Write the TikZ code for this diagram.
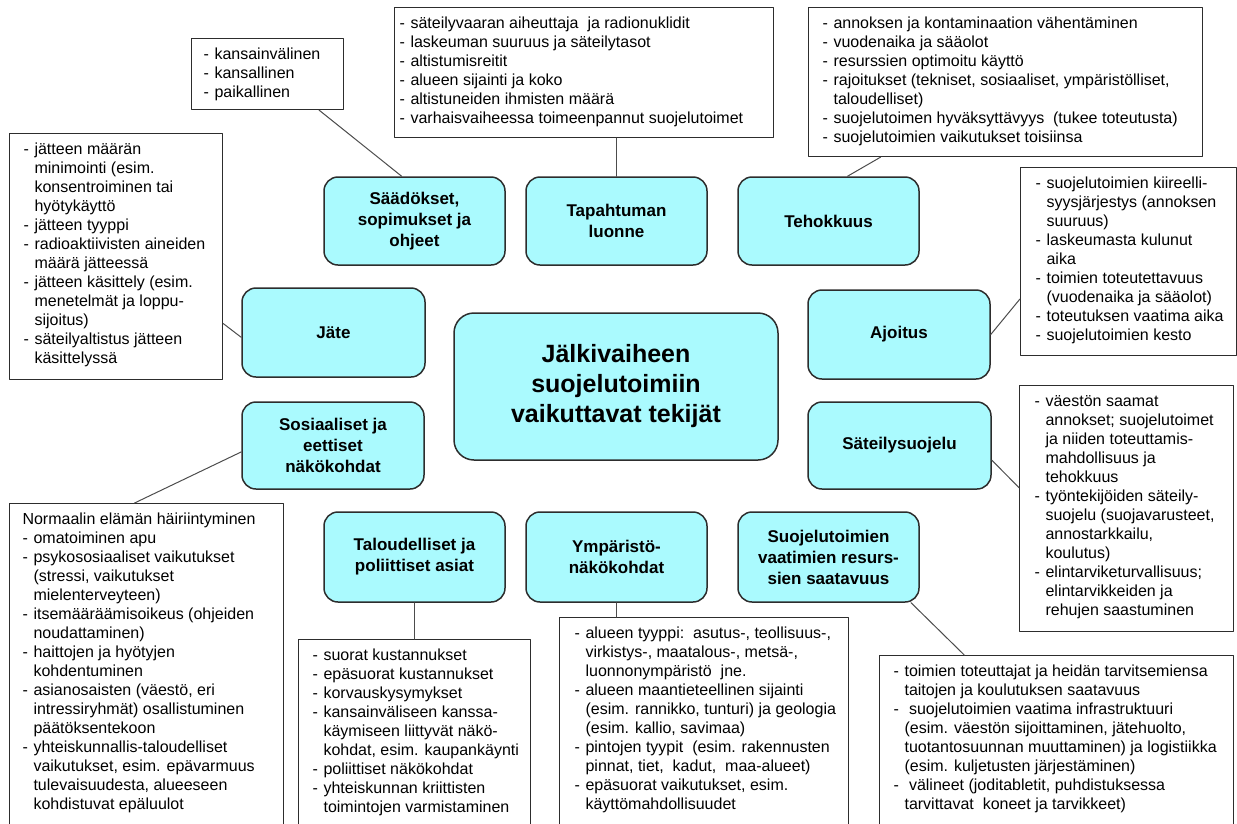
\documentclass[tikz,border=0pt]{standalone}
\usepackage{fontspec}
\setmainfont{Liberation Sans}
\definecolor{topicfill}{RGB}{170,250,254}
\definecolor{edgegray}{RGB}{45,45,45}
\newcommand{\dashitem}{\makebox[11pt][l]{-}}
\newcommand{\contline}{\hspace*{11pt}}
\newcommand{\notelines}[3]{\parbox[t][#2][t]{#1}{\begin{tabular}[t]{@{}l@{}}#3\end{tabular}}}

\begin{document}
\begin{tikzpicture}[x=1pt,y=-1pt,line cap=round,line join=round,
	topic/.style={draw=edgegray,line width=1.5pt,fill=topicfill,rounded corners=14pt,align=center,
		minimum width=181pt,minimum height=88pt,inner sep=0pt,font=\fontsize{17}{21}\selectfont\bfseries},
	listbox/.style={draw=edgegray,line width=1.1pt,fill=white,anchor=north west,inner ysep=8pt,
		font=\fontsize{16}{19}\selectfont},
	link/.style={draw=edgegray!85,line width=1pt}]
				\useasboundingbox (0,0) rectangle (1237,823);
				\clip (0,0) rectangle (1237,823);
				
				% keskimmainen laatikko
				\node[topic,minimum width=324pt,minimum height=147pt,rounded corners=20pt,
					font=\fontsize{25}{30}\selectfont\bfseries] (main) at (616,386.5) {Jälkivaiheen\\suojelutoimiin\\vaikuttavat tekijät};
				
				% ylarivi
				\node[topic] (saad) at (414.5,221) {Säädökset,\\sopimukset ja\\ohjeet};
				\node[topic] (tapa) at (616.5,221) {Tapahtuman\\luonne};
				\node[topic] (teh) at (828.5,221) {Tehokkuus};
				
				% sivut
				\node[topic,minimum width=183pt,minimum height=89pt] (jate) at (333.5,332.5) {Jäte};
				\node[topic,minimum width=182pt,minimum height=87pt] (sos) at (333,445.5) {Sosiaaliset ja\\eettiset\\näkökohdat};
				\node[topic,minimum width=182pt,minimum height=89pt] (ajo) at (899,334.5) {Ajoitus};
				\node[topic,minimum width=183pt,minimum height=87pt] (sat) at (899.5,445.5) {Säteilysuojelu};
				
				% alarivi
				\node[topic,minimum height=90pt] (tal) at (414.5,557) {Taloudelliset ja\\poliittiset asiat};
				\node[topic,minimum height=90pt] (ymp) at (616.5,557) {Ympäristö-\\näkökohdat};
				\node[topic,minimum height=90pt] (suo) at (828.5,557) {Suojelutoimien\\vaatimien resurs-\\sien saatavuus};
				
				% listat
				\node[listbox,inner xsep=12pt] (kanslist) at (191,38) {\notelines{128pt}{55pt}{%
					\dashitem kansainvälinen\\
					\dashitem kansallinen\\
					\dashitem paikallinen}};
				
				\node[listbox,inner xsep=5pt] (tapalist) at (394,7) {\notelines{369pt}{114pt}{%
					\dashitem säteilyvaaran aiheuttaja\ \ ja radionuklidit\\
					\dashitem laskeuman suuruus ja säteilytasot\\
					\dashitem altistumisreitit\\
					\dashitem alueen sijainti ja koko\\
					\dashitem altistuneiden ihmisten määrä\\
					\dashitem varhaisvaiheessa toimeenpannut suojelutoimet}};
				
				\node[listbox,inner xsep=14pt] (tehlist) at (808,7) {\notelines{366pt}{133pt}{%
					\dashitem annoksen ja kontaminaation vähentäminen\\
					\dashitem vuodenaika ja sääolot\\
					\dashitem resurssien optimoitu käyttö\\
					\dashitem rajoitukset (tekniset, sosiaaliset, ympäristölliset,\\
					\contline taloudelliset)\\
					\dashitem suojelutoimen hyväksyttävyys\ \ (tukee toteutusta)\\
					\dashitem suojelutoimien vaikutukset toisiinsa}};
				
				\node[listbox,inner xsep=14pt] (jatelist) at (9,133) {\notelines{185pt}{230pt}{%
					\dashitem jätteen määrän\\
					\contline minimointi (esim.\\
					\contline konsentroiminen tai\\
					\contline hyötykäyttö\\
					\dashitem jätteen tyyppi\\
					\dashitem radioaktiivisten aineiden\\
					\contline määrä jätteessä\\
					\dashitem jätteen käsittely (esim.\\
					\contline menetelmät ja loppu-\\
					\contline sijoitus)\\
					\dashitem säteilyaltistus jätteen\\
					\contline käsittelyssä}};
				
				\node[listbox,inner xsep=15pt] (ajolist) at (1020,167) {\notelines{186pt}{172pt}{%
					\dashitem suojelutoimien kiireelli-\\
					\contline syysjärjestys (annoksen\\
					\contline suuruus)\\
					\dashitem laskeumasta kulunut\\
					\contline aika\\
					\dashitem toimien toteutettavuus\\
					\contline (vuodenaika ja sääolot)\\
					\dashitem toteutuksen vaatima aika\\
					\dashitem suojelutoimien kesto}};
				
				\node[listbox,inner xsep=15pt] (satlist) at (1019,385) {\notelines{184pt}{230pt}{%
					\dashitem väestön saamat\\
					\contline annokset; suojelutoimet\\
					\contline ja niiden toteuttamis-\\
					\contline mahdollisuus ja\\
					\contline tehokkuus\\
					\dashitem työntekijöiden säteily-\\
					\contline suojelu (suojavarusteet,\\
					\contline annostarkkailu,\\
					\contline koulutus)\\
					\dashitem elintarviketurvallisuus;\\
					\contline elintarvikkeiden ja\\
					\contline rehujen saastuminen}};
				
				\node[listbox,inner xsep=14pt] (suolist) at (879,655) {\notelines{326pt}{174pt}{%
					\dashitem toimien toteuttajat ja heidän tarvitsemiensa\\
					\contline taitojen ja koulutuksen saatavuus\\
					\dashitem\ suojelutoimien vaatima infrastruktuuri\\
					\contline (esim. väestön sijoittaminen, jätehuolto,\\
					\contline tuotantosuunnan muuttaminen) ja logistiikka\\
					\contline (esim. kuljetusten järjestäminen)\\
					\dashitem\ välineet (joditabletit, puhdistuksessa\\
					\contline tarvittavat\ \ koneet ja tarvikkeet)}};
				
				\node[listbox,inner xsep=13pt] (soslist) at (9,503) {\notelines{248pt}{326pt}{%
					Normaalin elämän häiriintyminen\\
					\dashitem omatoiminen apu\\
					\dashitem psykososiaaliset vaikutukset\\
					\contline (stressi, vaikutukset\\
					\contline mielenterveyteen)\\
					\dashitem itsemääräämisoikeus (ohjeiden\\
					\contline noudattaminen)\\
					\dashitem haittojen ja hyötyjen\\
					\contline kohdentuminen\\
					\dashitem asianosaisten (väestö, eri\\
					\contline intressiryhmät) osallistuminen\\
					\contline päätöksentekoon\\
					\dashitem yhteiskunnallis-taloudelliset\\
					\contline vaikutukset, esim. epävarmuus\\
					\contline tulevaisuudesta, alueeseen\\
					\contline kohdistuvat epäluulot}};
				
				\node[listbox,inner xsep=14pt] (tallist) at (298,639) {\notelines{204pt}{190pt}{%
					\dashitem suorat kustannukset\\
					\dashitem epäsuorat kustannukset\\
					\dashitem korvauskysymykset\\
					\dashitem kansainväliseen kanssa-\\
					\contline käymiseen liittyvät\ näkö-\\
					\contline kohdat,\ esim. kaupankäynti\\
					\dashitem poliittiset näkökohdat\\
					\dashitem yhteiskunnan kriittisten\\
					\contline toimintojen varmistaminen}};
				
				\node[listbox,inner xsep=15pt] (ymplist) at (559,617) {\notelines{259pt}{212pt}{%
					\dashitem alueen tyyppi:\ \ asutus-, teollisuus-,\\
					\contline virkistys-, maatalous-, metsä-,\\
					\contline luonnonympäristö\ \ jne.\\
					\dashitem alueen maantieteellinen sijainti\\
					\contline (esim. rannikko, tunturi) ja geologia\\
					\contline (esim. kallio, savimaa)\\
					\dashitem pintojen tyypit\ \ (esim. rakennusten\\
					\contline pinnat, tiet,\ \ kadut,\ \ maa-alueet)\\
					\dashitem epäsuorat vaikutukset, esim.\\
					\contline käyttömahdollisuudet}};
				
				% yhteydet
				\draw[link] (kanslist.-35) -- (saad.106);
				\draw[link] (tapa.north) -- (tapa.north |- tapalist.south);
				\draw[link] (tehlist.-149) -- (teh.67);
				\draw[link] (jatelist.-32) -- (jate.-177);
				\draw[link] (ajolist.-161) -- (ajo.east);
				\draw[link] (satlist.169) -- (sat.-9);
				\draw[link] (sos.-176) -- (soslist.94);
				\draw[link] (tal.south) -- (tal.south |- tallist.north);
				\draw[link] (ymp.south) -- (ymp.south |- ymplist.north);
				\draw[link] (suo.-29) -- (suolist.134);
\end{tikzpicture}
\end{document}
